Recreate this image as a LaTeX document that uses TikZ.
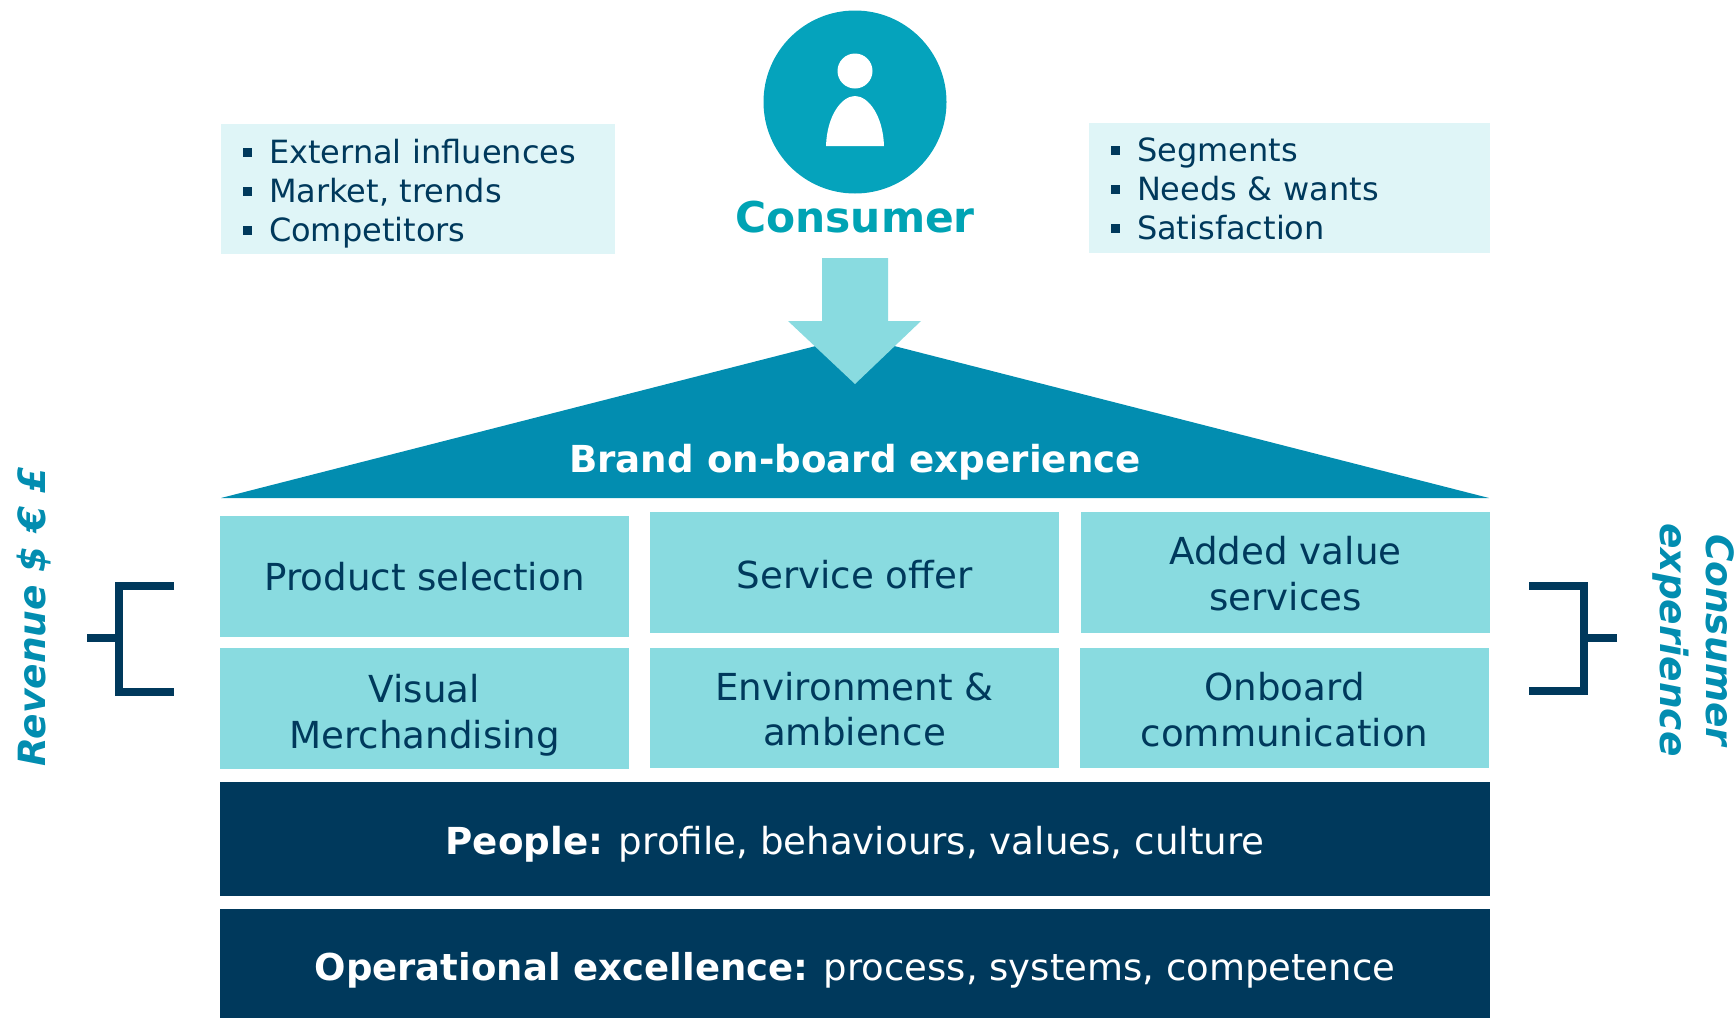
\documentclass[tikz,border=0pt]{standalone}
\usepackage{fontspec}
\setmainfont{DejaVu Sans}
\definecolor{tealdark}{HTML}{028DB0}
\definecolor{tealicon}{HTML}{05A3BC}
\definecolor{tealtext}{HTML}{00A3B4}
\definecolor{teallight}{HTML}{89DBE0}
\definecolor{tealpale}{HTML}{DFF5F7}
\definecolor{navy}{HTML}{00395C}
\newcommand{\sq}{\rule[0.2em]{9pt}{9pt}\hspace{17pt}}
\newcommand{\drop}[1]{\rule{0pt}{#1pt}}
\tikzset{
  infobox/.style={shape=rectangle, fill=tealpale, text=navy, inner xsep=22pt, inner ysep=0pt, align=left, minimum height=130pt, font=\fontsize{32}{39}\selectfont},
  pillar/.style={shape=rectangle, fill=teallight, text=navy, inner sep=0pt, align=center, minimum width=409pt, minimum height=121pt, font=\fontsize{37.2}{45.5}\selectfont},
  base/.style={shape=rectangle, fill=navy, text=white, inner sep=0pt, minimum width=1270pt, font=\fontsize{37.2}{45.5}\selectfont},
  sidetext/.style={text=tealdark, inner sep=0pt, align=center, font=\fontsize{37.5}{46}\selectfont\bfseries\itshape},
  bracketline/.style={draw=navy, line width=8pt, miter limit=10}
}
\begin{document}
\begin{tikzpicture}[x=1pt, y=-1pt]
\useasboundingbox (0,0) rectangle (1734,1018);
\node[shape=circle, fill=tealicon, inner sep=0pt, minimum size=183pt] (icon) at (855,102) {};
\node[shape=circle, fill=white, inner sep=0pt, minimum size=35pt] (head) at (855,71) {};
\fill[white] (826,146) .. controls (827,115) and (842,96) .. (855,96) .. controls (868,96) and (883,115) .. (884,146) -- cycle;
\node[text=tealtext, inner sep=0pt, font=\fontsize{42.4}{48}\selectfont\bfseries] (consumer) at (855,217) {Consumer};
\node[infobox, text width=350pt] (outside) at (418,189) {\sq\drop{33.5}External influences\\ \sq Market, trends\\ \sq Competitors};
\node[infobox, text width=357pt] (segments) at (1289.5,188) {\sq\drop{25}Segments\\ \sq Needs \& wants\\ \sq Satisfaction};
\fill[tealdark] (221,498) -- (855,336) -- (1489,498) -- cycle;
\fill[teallight] (822,258) -- (888,258) -- (888,321) -- (921,321) -- (855,384) -- (788,321) -- (822,321) -- cycle;
\node[text=white, inner sep=0pt, font=\fontsize{37.2}{45}\selectfont\bfseries] (brand) at (855,459) {\drop{34}Brand on-board experience};
\node[pillar] (product) at (424.5,576) {\drop{30}Product selection};
\node[pillar] (service) at (854.5,572.5) {\drop{32}Service offer};
\node[pillar] (added) at (1285.5,572.5) {\drop{31}Added value\\services};
\node[pillar] (visual) at (424.5,708.5) {\drop{42}Visual\\Merchandising};
\node[pillar, minimum height=120pt] (environment) at (854.5,708) {\drop{31}Environment \&\\ambience};
\node[pillar, minimum height=120pt] (onboard) at (1284.5,708) {\drop{32}Onboard\\communication};
\node[base, minimum height=114pt] (people) at (855,839) {\drop{39}\textbf{People:} profile, behaviours, values, culture};
\node[base, minimum height=109pt, font=\fontsize{37}{45.5}\selectfont] (operations) at (855,963.5) {\drop{41}\textbf{Operational excellence:} process, systems, competence};
% brackets
\coordinate (l1) at (174,585.5);
\coordinate (l2) at (119,585.5);
\coordinate (l3) at (119,692);
\coordinate (l4) at (174,692);
\coordinate (l5) at (87,637.5);
\coordinate (l6) at (119,637.5);
\draw[bracketline] (l1) -- (l2) -- (l3) -- (l4);
\draw[bracketline] (l5) -- (l6);
\coordinate (r1) at (1529,585.5);
\coordinate (r2) at (1584,585.5);
\coordinate (r3) at (1584,691);
\coordinate (r4) at (1529,691);
\coordinate (r5) at (1617,637.5);
\coordinate (r6) at (1584,637.5);
\draw[bracketline] (r1) -- (r2) -- (r3) -- (r4);
\draw[bracketline] (r5) -- (r6);
\node[sidetext, rotate=90] (revenue) at (34,617) {Revenue \$ € £};
\node[sidetext, rotate=-90] (experience) at (1693,640) {Consumer\\experience};
\end{tikzpicture}
\end{document}
